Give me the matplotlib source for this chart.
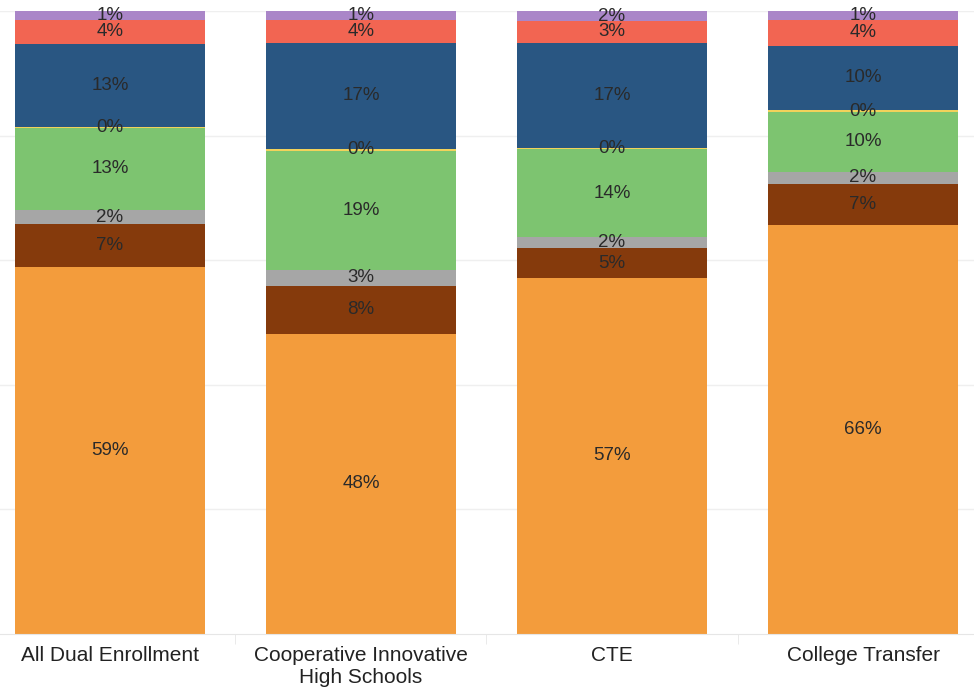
import numpy as np
import matplotlib.pyplot as plt

plt.rcParams.update({'font.family': ['Liberation Sans', 'DejaVu Sans']})

# =============================================================================
# DATA (percent of students)
# =============================================================================

categories = ['All Dual Enrollment', 'Cooperative Innovative\nHigh Schools',
              'CTE', 'College Transfer']

# stacked bottom -> top
orange = [59.0, 48.3, 57.3, 65.9]
brown  = [6.8, 7.6, 4.8, 6.6]
gray   = [2.3, 2.7, 1.8, 2.0]
green  = [13.2, 19.1, 14.1, 9.6]
yellow = [0.2, 0.3, 0.3, 0.3]
navy   = [13.3, 17.1, 16.9, 10.4]
red    = [3.9, 3.7, 3.4, 4.2]
purple = [1.3, 1.3, 1.6, 1.3]

series = [orange, brown, gray, green, yellow, navy, red, purple]
colors = ['#F39C3C', '#853A0C', '#A6A6A6', '#7DC470',
          '#F2D25B', '#295682', '#F26552', '#AA86C8']

# =============================================================================
# PLOT
# =============================================================================

data = np.array(series, dtype=float)
data = data / data.sum(axis=0) * 100   # normalise every bar to 100 %

fig = plt.figure(figsize=(9.74, 6.91), dpi=100)
ax = fig.add_axes([0, 0.0825, 1, 0.9009])

x = np.arange(len(categories))
bottom = np.zeros(len(categories))
for vals, raw, col in zip(data, series, colors):
    ax.bar(x, vals, 0.757, bottom=bottom, color=col, zorder=2)
    for xi, b, v, r in zip(x, bottom, vals, raw):
        ax.text(xi, b + v / 2, f'{r:.0f}%', ha='center', va='center',
                fontsize=13.5, color='#2a2a2a', zorder=3)
    bottom += vals

ax.set_xlim(-0.438, 3.442)
ax.set_ylim(0, 100)
ax.set_yticks([20, 40, 60, 80, 100])
ax.set_yticklabels([])
ax.tick_params(axis='y', length=0)
ax.grid(axis='y', color='#efefef', linewidth=1, zorder=0)

for s in ['top', 'right', 'left']:
    ax.spines[s].set_visible(False)
ax.spines['bottom'].set_color('#e6e6e6')

ax.set_xticks(x)
ax.set_xticklabels(categories, fontsize=15, color='#222222', linespacing=1.2)
ax.tick_params(axis='x', length=0, pad=9)

# small separators between categories
ax.set_xticks(x[:-1] + 0.5, minor=True)
ax.tick_params(axis='x', which='minor', length=7, color='#e6e6e6')

plt.savefig('out.png', dpi=100)
